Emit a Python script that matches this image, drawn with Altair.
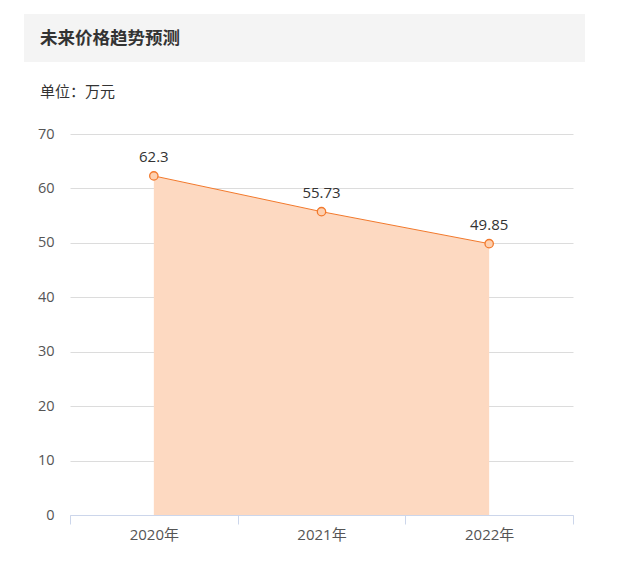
import altair as alt
import pandas as pd

years = ["2020年", "2021年", "2022年"]
prices = [62.3, 55.73, 49.85]
labels = ["62.3", "55.73", "49.85"]

df = pd.DataFrame({"year": years, "price": prices, "label": labels})
FONT = "Noto Sans CJK SC"
NUMFONT = "Open Sans, Noto Sans CJK SC"

x = alt.X("year:N", sort=years, title=None, bandPosition=0.5,
          scale=alt.Scale(type="band", paddingInner=0, paddingOuter=0),
          axis=alt.Axis(labelAngle=0, tickBand="extent", domainColor="#ccd6eb",
                        tickColor="#ccd6eb", tickSize=9, labelPadding=3,
                        labelFont=NUMFONT, labelFontSize=15, labelColor="#555",
                        grid=False))
y = alt.Y("price:Q", title=None,
          scale=alt.Scale(domain=[0, 70], nice=False),
          axis=alt.Axis(values=[0, 10, 20, 30, 40, 50, 60, 70], domain=False, ticks=False,
                        labelPadding=16, labelFont=NUMFONT, labelFontSize=14.5,
                        labelColor="#555", gridColor="#dcdcdc"))

base = alt.Chart(df)
area = base.mark_area(color="#fdd9c1", opacity=1).encode(x=x, y=y)
line = base.mark_line(color="#f2792c", strokeWidth=1).encode(x=x, y=y)
pts = base.mark_point(shape="circle", filled=True, fill="#fdd0b0", stroke="#f2792c",
                      strokeWidth=1.3, size=70, opacity=1).encode(x=x, y=y)
txt = base.mark_text(dy=-19, font=NUMFONT, fontSize=15, color="#333").encode(x=x, y=y, text="label:N")

rect = alt.Chart(pd.DataFrame({"a": [0]})).mark_rect(color="#f4f4f4", clip=False).encode(
    x=alt.value(-46), x2=alt.value(515), y=alt.value(-120), y2=alt.value(-72))
title = alt.Chart(pd.DataFrame({"t": ["未来价格趋势预测"]})).mark_text(
    align="left", baseline="middle", font=FONT, fontSize=17.5, fontWeight="bold", color="#333").encode(
    x=alt.value(-30), y=alt.value(-95), text="t:N")
unit = alt.Chart(pd.DataFrame({"t": ["单位：万元"]})).mark_text(
    align="left", baseline="middle", font=FONT, fontSize=15, color="#333").encode(
    x=alt.value(-30), y=alt.value(-42), text="t:N")

chart = alt.layer(rect, title, unit, area, line, pts, txt).properties(
    width=503, height=381,
    autosize=alt.AutoSizeParams(type="none"),
    padding={"left": 62, "top": 126, "right": 38, "bottom": 40},
).configure_view(stroke=None)

chart.save("out.html", embed_options={"renderer": "svg", "actions": False})
